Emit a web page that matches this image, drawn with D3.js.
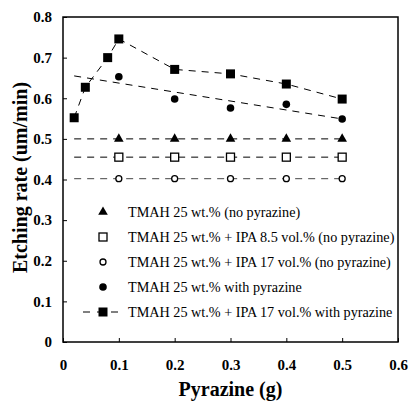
<!DOCTYPE html>
<html>
<head>
<meta charset="utf-8">
<script src="https://cdn.jsdelivr.net/npm/d3@7"></script>
<style>
  body { margin: 0; background: #fff; }
</style>
</head>
<body>
<div id="chart"></div>
<script>
// data
const xTicks = [0, 0.1, 0.2, 0.3, 0.4, 0.5, 0.6];
const yTicks = [0, 0.1, 0.2, 0.3, 0.4, 0.5, 0.6, 0.7, 0.8];

const pyrX = [0.1, 0.2, 0.3, 0.4, 0.5];
const tmahNoPyr = [0.5, 0.5, 0.5, 0.5, 0.5];
const ipa85NoPyr = [0.455, 0.455, 0.455, 0.455, 0.455];
const ipa17NoPyr = [0.402, 0.402, 0.402, 0.402, 0.402];
const tmahPyr = [0.653, 0.598, 0.576, 0.585, 0.549];

const ipaPyrX = [0.02, 0.04, 0.08, 0.1, 0.2, 0.3, 0.4, 0.5];
const ipaPyr = [0.552, 0.627, 0.700, 0.746, 0.671, 0.660, 0.635, 0.598];

// dashed guide lines (start/end)
const guideX = [0.02, 0.5];
const tmahPyrTrend = [0.655, 0.549];

const legendLabels = [
  "TMAH 25 wt.% (no pyrazine)",
  "TMAH 25 wt.% + IPA 8.5 vol.% (no pyrazine)",
  "TMAH 25 wt.% + IPA 17 vol.% (no pyrazine)",
  "TMAH 25 wt.% with pyrazine",
  "TMAH 25 wt.% + IPA 17 vol.% with pyrazine"
];

const FONT = '"Liberation Serif", "Times New Roman", serif';
const W = 412, H = 405;
const margin = { left: 63, right: 14, top: 17, bottom: 63 };

const svg = d3.select('#chart')
  .append('svg')
  .attr('width', W)
  .attr('height', H);

const x = d3.scaleLinear().domain([0, 0.6]).range([margin.left, W - margin.right]);
const y = d3.scaleLinear().domain([0, 0.8]).range([H - margin.bottom, margin.top]);

// frame
svg.append('rect')
  .attr('x', x(0)).attr('y', y(0.8))
  .attr('width', x(0.6) - x(0)).attr('height', y(0) - y(0.8))
  .attr('fill', 'none').attr('stroke', '#000').attr('stroke-width', 1.5);

// axes with inward ticks
const fmt = d => d === 0 ? '0' : d3.format('.1f')(d);
const xAxis = svg.append('g')
  .attr('transform', `translate(0,${y(0)})`)
  .call(d3.axisBottom(x).tickValues(xTicks).tickSize(-4).tickPadding(17).tickFormat(fmt));
const yAxis = svg.append('g')
  .attr('transform', `translate(${x(0)},0)`)
  .call(d3.axisLeft(y).tickValues(yTicks).tickSize(-4).tickPadding(11).tickFormat(fmt));

[xAxis, yAxis].forEach(g => {
  g.attr('font-family', null);
  g.select('.domain').remove();
  g.selectAll('.tick line').attr('stroke', '#000');
  g.selectAll('.tick text')
    .style('font-family', FONT)
    .style('font-size', '15px')
    .style('font-weight', 'bold')
    .attr('fill', '#000');
});

// axis titles
svg.append('text')
  .attr('x', x(0.3)).attr('y', 396)
  .attr('text-anchor', 'middle')
  .style('font-family', FONT)
  .style('font-size', '20px').style('font-weight', 'bold')
  .text('Pyrazine (g)');
svg.append('text')
  .attr('transform', `translate(27,${y(0.4) - 2}) rotate(-90)`)
  .attr('text-anchor', 'middle')
  .style('font-family', FONT)
  .style('font-size', '20px').style('font-weight', 'bold')
  .text('Etching rate (um/min)');

const dash = '7,6';
const line = d3.line().x(d => x(d[0])).y(d => y(d[1]));

// horizontal guide lines for the no-pyrazine series
[tmahNoPyr, ipa85NoPyr, ipa17NoPyr].forEach((vals, i) => {
  svg.append('path')
    .attr('d', line(guideX.map(gx => [gx, vals[0]])))
    .attr('fill', 'none')
    .attr('stroke', i === 2 ? '#444' : '#000')
    .attr('stroke-width', 1)
    .attr('stroke-dasharray', dash);
});

// trend for TMAH with pyrazine
svg.append('path')
  .attr('d', line(guideX.map((gx, i) => [gx, tmahPyrTrend[i]])))
  .attr('fill', 'none').attr('stroke', '#000').attr('stroke-width', 1)
  .attr('stroke-dasharray', dash);

// IPA 17 with pyrazine connected
svg.append('path')
  .attr('d', line(ipaPyrX.map((d, i) => [d, ipaPyr[i]])))
  .attr('fill', 'none').attr('stroke', '#000').attr('stroke-width', 1)
  .attr('stroke-dasharray', dash);

// marker drawing
function marker(g, type, cx, cy) {
  if (type === 'triangle') {
    g.append('path')
      .attr('d', d3.symbol().type(d3.symbolTriangle).size(40)())
      .attr('transform', `translate(${cx},${cy})`)
      .attr('fill', '#000');
  } else if (type === 'openSquare') {
    g.append('rect')
      .attr('x', cx - 4).attr('y', cy - 4).attr('width', 8).attr('height', 8)
      .attr('fill', '#fff').attr('stroke', '#000').attr('stroke-width', 1.3);
  } else if (type === 'openCircle') {
    g.append('circle')
      .attr('cx', cx).attr('cy', cy).attr('r', 3)
      .attr('fill', '#fff').attr('stroke', '#000').attr('stroke-width', 1.3);
  } else if (type === 'dot') {
    g.append('circle')
      .attr('cx', cx).attr('cy', cy).attr('r', 3.8)
      .attr('fill', '#000');
  } else if (type === 'square') {
    g.append('rect')
      .attr('x', cx - 4.5).attr('y', cy - 4.5).attr('width', 9).attr('height', 9)
      .attr('fill', '#000');
  }
}

const marks = svg.append('g');
const seriesList = [
  { type: 'triangle', xs: pyrX, ys: tmahNoPyr },
  { type: 'openSquare', xs: pyrX, ys: ipa85NoPyr },
  { type: 'openCircle', xs: pyrX, ys: ipa17NoPyr },
  { type: 'dot', xs: pyrX, ys: tmahPyr },
  { type: 'square', xs: ipaPyrX, ys: ipaPyr }
];
seriesList.forEach(s => {
  s.xs.forEach((xv, i) => marker(marks, s.type, x(xv), y(s.ys[i])));
});

// legend
const legend = svg.append('g');
legendLabels.forEach((label, i) => {
  const ly = 212 + i * 25;
  if (i === 4) {
    legend.append('line')
      .attr('x1', 83).attr('x2', 123).attr('y1', ly).attr('y2', ly)
      .attr('stroke', '#000').attr('stroke-dasharray', '7,7');
  }
  marker(legend, seriesList[i].type, 103, ly);
  legend.append('text')
    .attr('x', 128).attr('y', ly + 4.5)
    .style('font-family', FONT)
    .style('font-size', '14.2px')
    .attr('fill', '#000')
    .text(label);
});
</script>
</body>
</html>
